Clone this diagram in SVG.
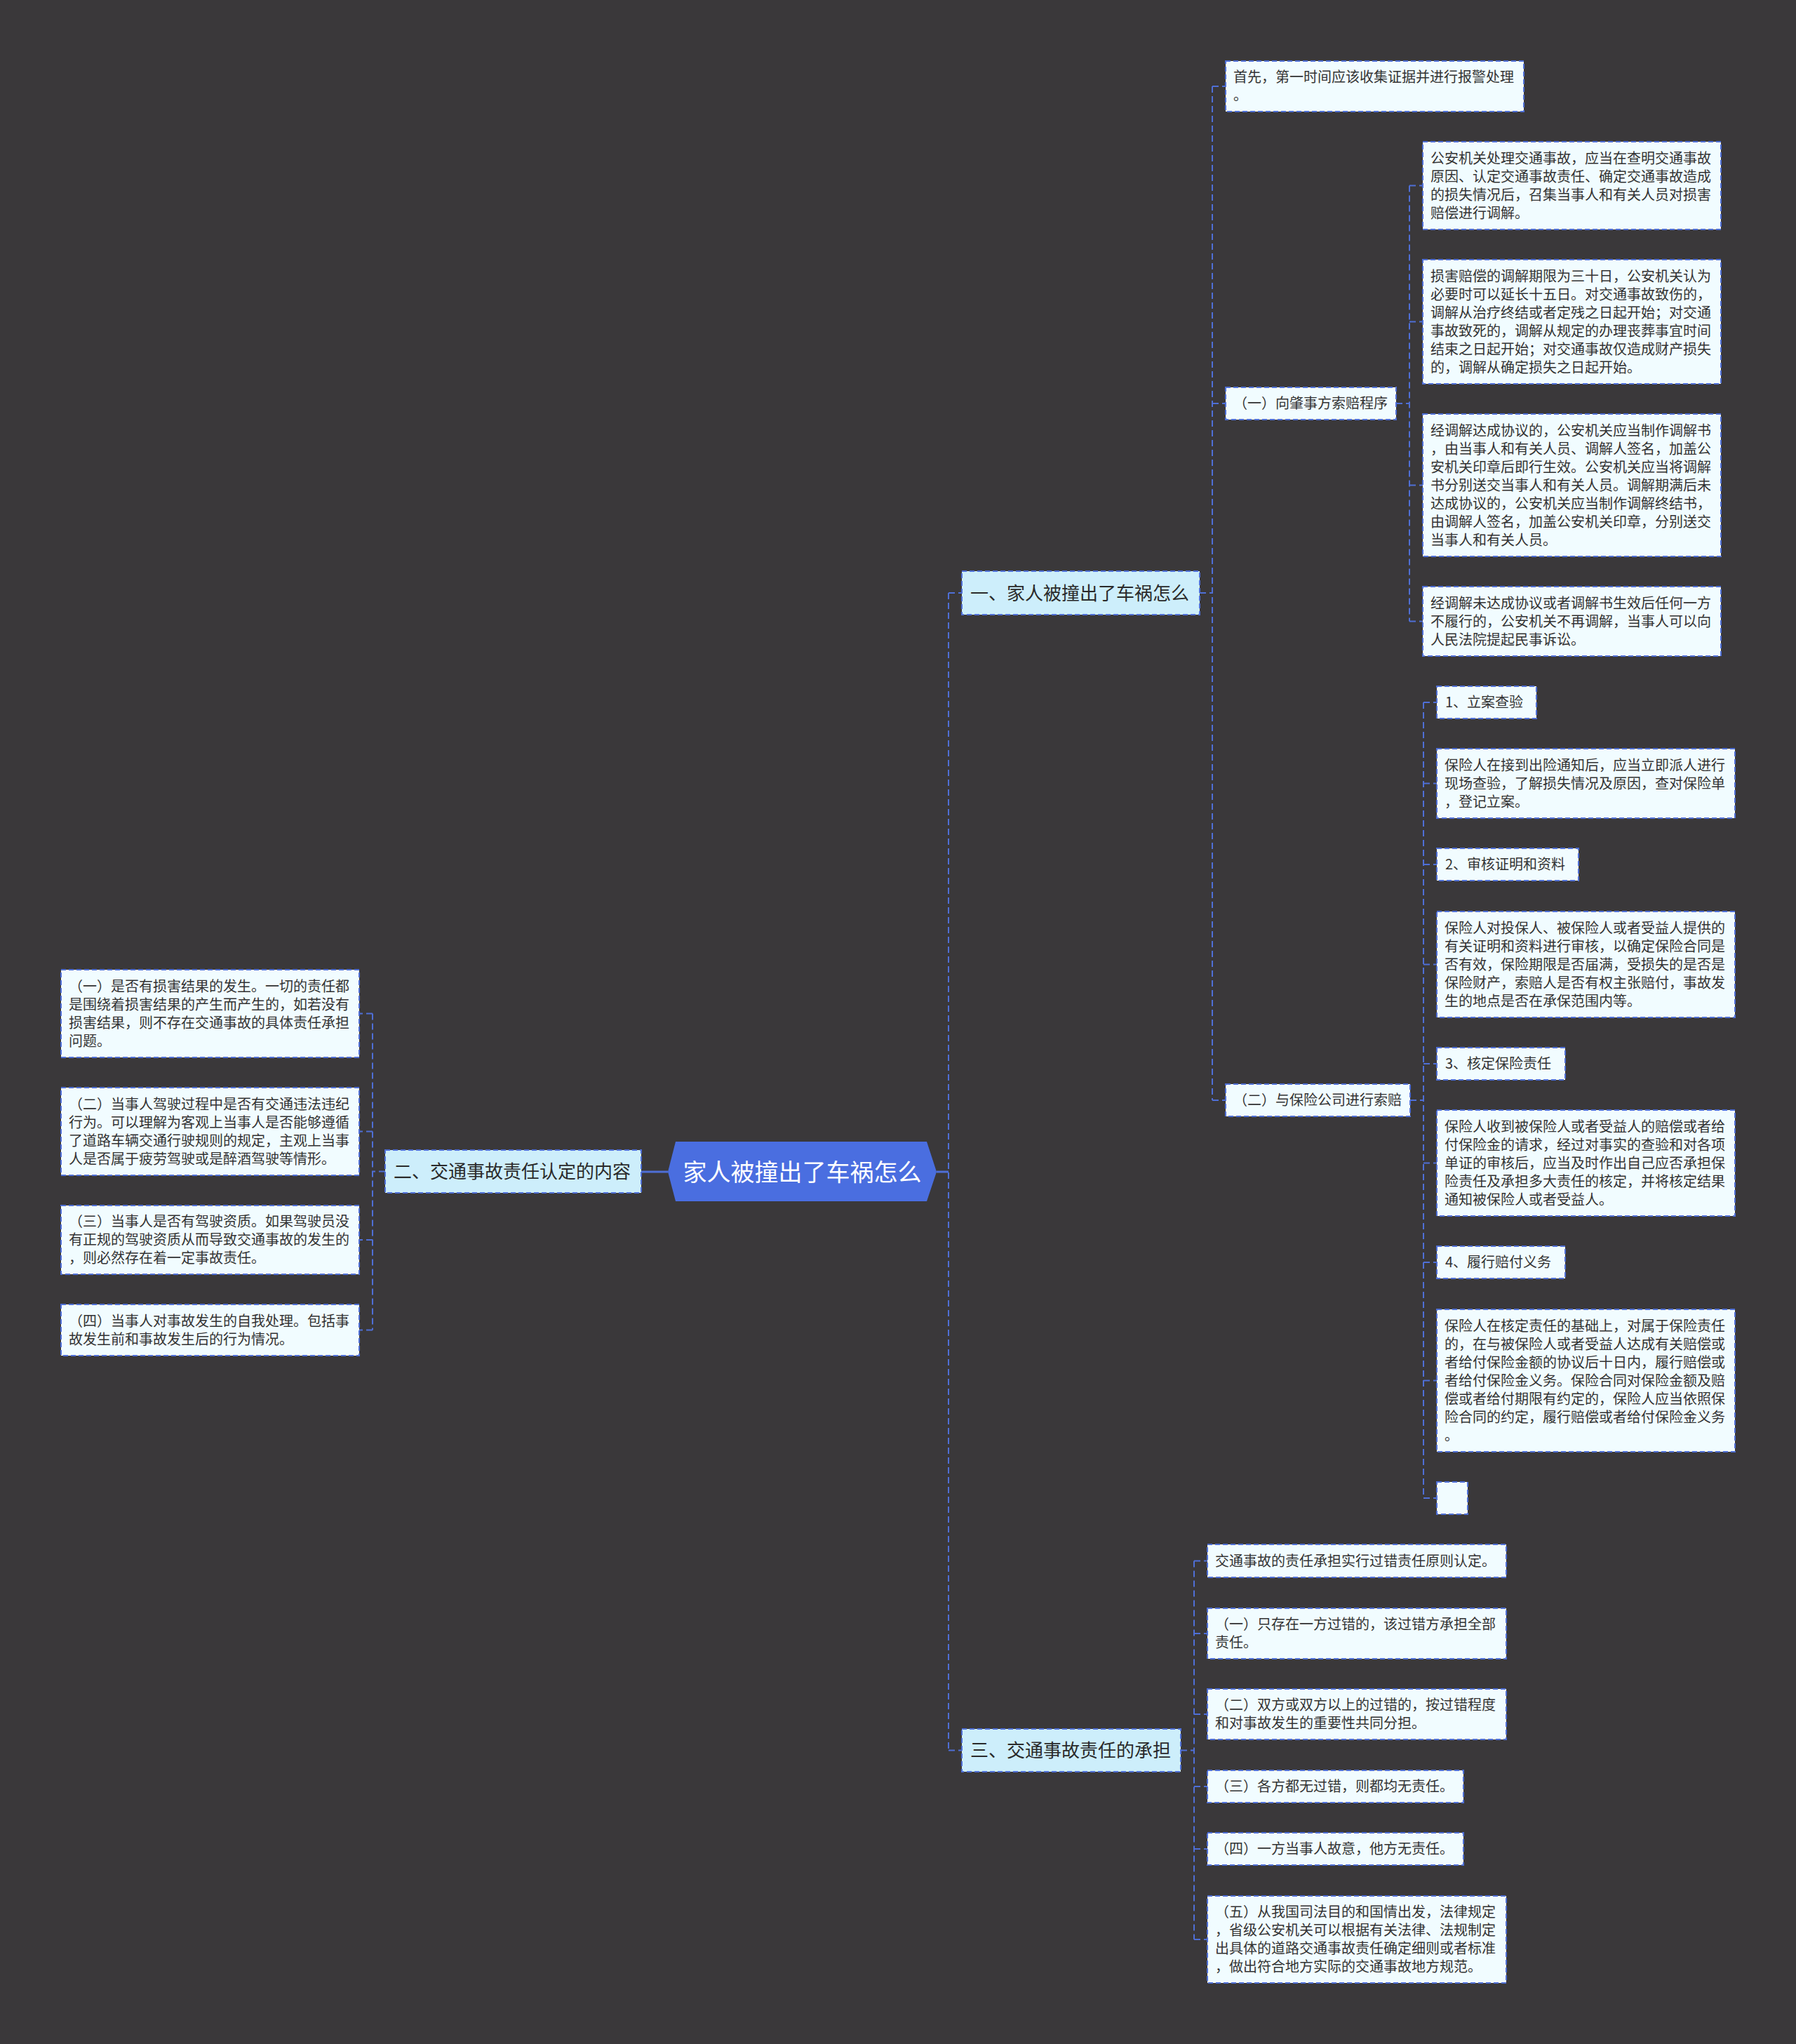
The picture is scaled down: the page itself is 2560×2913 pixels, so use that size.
<svg xmlns="http://www.w3.org/2000/svg" width="2560" height="2913" viewBox="0 0 2560 2913">
<style>
.bg{fill:#3a383a}
.n rect{fill:#f1fcff;stroke:#4f6fd6;stroke-width:2;stroke-dasharray:7 4}
.l1 rect{fill:#cdeefb;stroke:#4f6fd6;stroke-width:2;stroke-dasharray:7 4}
.t{font-family:"Noto Sans CJK SC","Noto Sans",sans-serif;font-size:20px;fill:#333}
.t1{font-family:"Noto Sans CJK SC","Noto Sans",sans-serif;font-size:26px;fill:#2a2a2a}
.c path{fill:none;stroke:#4f6fd6;stroke-width:2;stroke-dasharray:9 5}
.c .s{stroke-dasharray:none;stroke-width:3}
</style>
<rect class="bg" x="0" y="0" width="2560" height="2913"/>

<g class="c" id="connectors">
<path class="s" d="M1335 1670 H1352"/>
<path class="s" d="M952 1670 H914"/>
<path d="M1352 845 V2494.5 M1352 845 H1371 M1352 2494.5 H1371"/>
<path d="M1710 845 H1728 M1728 123 V1568 M1728 123 H1747 M1728 575 H1747 M1728 1568 H1747"/>
<path d="M1990 575 H2009 M2009 264.5 V885.5 M2009 264.5 H2028 M2009 458.5 H2028 M2009 691.5 H2028 M2009 885.5 H2028"/>
<path d="M2010 1568 H2029 M2029 1001 V2135 M2029 1001 H2048 M2029 1116.5 H2048 M2029 1232 H2048 M2029 1374.5 H2048 M2029 1516 H2048 M2029 1657.5 H2048 M2029 1799 H2048 M2029 1967.5 H2048 M2029 2135 H2048"/>
<path d="M1683 2494.5 H1702 M1702 2224.5 V2764 M1702 2224.5 H1721 M1702 2328 H1721 M1702 2443 H1721 M1702 2546 H1721 M1702 2635 H1721 M1702 2764 H1721"/>
<path d="M549 1669.5 H531 M531 1444.5 V1895.5 M531 1444.5 H512 M531 1612.5 H512 M531 1767 H512 M531 1895.5 H512"/>
</g>

<g id="root">
<polygon points="952,1670 963,1627 1321,1627 1335,1670 1321,1712 963,1712" fill="#4a6ee0"/>
<text x="1143.5" y="1683" text-anchor="middle" font-family="'Noto Sans CJK SC',sans-serif" font-size="34" fill="#ffffff">家人被撞出了车祸怎么</text>
</g>

<g id="n1" class="l1"><rect x="1371" y="814" width="339" height="62"/><text class="t1" x="1383" y="855">一、家人被撞出了车祸怎么</text></g>
<g id="n2" class="l1"><rect x="549" y="1639" width="365" height="61"/><text class="t1" x="561" y="1679">二、交通事故责任认定的内容</text></g>
<g id="n3" class="l1"><rect x="1371" y="2464" width="312" height="61"/><text class="t1" x="1383" y="2504">三、交通事故责任的承担</text></g>

<g id="a" class="n"><rect x="1747" y="87" width="425" height="72"/><text class="t" x="1758" y="117">首先，第一时间应该收集证据并进行报警处理</text><text class="t" x="1758" y="143">。</text></g>

<g id="s1" class="n"><rect x="1747" y="552" width="243" height="46"/><text class="t" x="1758" y="582">（一）向肇事方索赔程序</text></g>

<g id="b" class="n"><rect x="2028" y="202" width="425" height="125"/>
<text class="t" x="2039" y="232.5">公安机关处理交通事故，应当在查明交通事故</text>
<text class="t" x="2039" y="258.5">原因、认定交通事故责任、确定交通事故造成</text>
<text class="t" x="2039" y="284.5">的损失情况后，召集当事人和有关人员对损害</text>
<text class="t" x="2039" y="310.5">赔偿进行调解。</text></g>

<g id="c" class="n"><rect x="2028" y="370" width="425" height="177"/>
<text class="t" x="2039" y="400.5">损害赔偿的调解期限为三十日，公安机关认为</text>
<text class="t" x="2039" y="426.5">必要时可以延长十五日。对交通事故致伤的，</text>
<text class="t" x="2039" y="452.5">调解从治疗终结或者定残之日起开始；对交通</text>
<text class="t" x="2039" y="478.5">事故致死的，调解从规定的办理丧葬事宜时间</text>
<text class="t" x="2039" y="504.5">结束之日起开始；对交通事故仅造成财产损失</text>
<text class="t" x="2039" y="530.5">的，调解从确定损失之日起开始。</text></g>

<g id="d" class="n"><rect x="2028" y="590" width="425" height="203"/>
<text class="t" x="2039" y="620.5">经调解达成协议的，公安机关应当制作调解书</text>
<text class="t" x="2039" y="646.5">，由当事人和有关人员、调解人签名，加盖公</text>
<text class="t" x="2039" y="672.5">安机关印章后即行生效。公安机关应当将调解</text>
<text class="t" x="2039" y="698.5">书分别送交当事人和有关人员。调解期满后未</text>
<text class="t" x="2039" y="724.5">达成协议的，公安机关应当制作调解终结书，</text>
<text class="t" x="2039" y="750.5">由调解人签名，加盖公安机关印章，分别送交</text>
<text class="t" x="2039" y="776.5">当事人和有关人员。</text></g>

<g id="e" class="n"><rect x="2028" y="836" width="425" height="99"/>
<text class="t" x="2039" y="866.5">经调解未达成协议或者调解书生效后任何一方</text>
<text class="t" x="2039" y="892.5">不履行的，公安机关不再调解，当事人可以向</text>
<text class="t" x="2039" y="918.5">人民法院提起民事诉讼。</text></g>

<g id="s2" class="n"><rect x="1747" y="1545" width="263" height="46"/><text class="t" x="1758" y="1575">（二）与保险公司进行索赔</text></g>

<g id="p1h" class="n"><rect x="2048" y="978" width="142" height="46"/><text class="t" x="2060" y="1008">1、立案查验</text></g>
<g id="p1" class="n"><rect x="2048" y="1067" width="425" height="99"/>
<text class="t" x="2059" y="1097.5">保险人在接到出险通知后，应当立即派人进行</text>
<text class="t" x="2059" y="1123.5">现场查验，了解损失情况及原因，查对保险单</text>
<text class="t" x="2059" y="1149.5">，登记立案。</text></g>

<g id="p2h" class="n"><rect x="2048" y="1209" width="202" height="46"/><text class="t" x="2060" y="1239">2、审核证明和资料</text></g>
<g id="p2" class="n"><rect x="2048" y="1299" width="425" height="151"/>
<text class="t" x="2059" y="1329.5">保险人对投保人、被保险人或者受益人提供的</text>
<text class="t" x="2059" y="1355.5">有关证明和资料进行审核，以确定保险合同是</text>
<text class="t" x="2059" y="1381.5">否有效，保险期限是否届满，受损失的是否是</text>
<text class="t" x="2059" y="1407.5">保险财产，索赔人是否有权主张赔付，事故发</text>
<text class="t" x="2059" y="1433.5">生的地点是否在承保范围内等。</text></g>

<g id="p3h" class="n"><rect x="2048" y="1493" width="183" height="46"/><text class="t" x="2060" y="1523">3、核定保险责任</text></g>
<g id="p3" class="n"><rect x="2048" y="1582" width="425" height="151"/>
<text class="t" x="2059" y="1612.5">保险人收到被保险人或者受益人的赔偿或者给</text>
<text class="t" x="2059" y="1638.5">付保险金的请求，经过对事实的查验和对各项</text>
<text class="t" x="2059" y="1664.5">单证的审核后，应当及时作出自己应否承担保</text>
<text class="t" x="2059" y="1690.5">险责任及承担多大责任的核定，并将核定结果</text>
<text class="t" x="2059" y="1716.5">通知被保险人或者受益人。</text></g>

<g id="p4h" class="n"><rect x="2048" y="1776" width="183" height="46"/><text class="t" x="2060" y="1806">4、履行赔付义务</text></g>
<g id="p4" class="n"><rect x="2048" y="1866" width="425" height="203"/>
<text class="t" x="2059" y="1896.5">保险人在核定责任的基础上，对属于保险责任</text>
<text class="t" x="2059" y="1922.5">的，在与被保险人或者受益人达成有关赔偿或</text>
<text class="t" x="2059" y="1948.5">者给付保险金额的协议后十日内，履行赔偿或</text>
<text class="t" x="2059" y="1974.5">者给付保险金义务。保险合同对保险金额及赔</text>
<text class="t" x="2059" y="2000.5">偿或者给付期限有约定的，保险人应当依照保</text>
<text class="t" x="2059" y="2026.5">险合同的约定，履行赔偿或者给付保险金义务</text>
<text class="t" x="2059" y="2052.5">。</text></g>

<g id="empty" class="n"><rect x="2048" y="2112" width="44" height="46"/></g>

<g id="r1" class="n"><rect x="1721" y="2201" width="426" height="47"/><text class="t" x="1732" y="2231.5">交通事故的责任承担实行过错责任原则认定。</text></g>
<g id="r2" class="n"><rect x="1721" y="2292" width="426" height="72"/>
<text class="t" x="1732" y="2322">（一）只存在一方过错的，该过错方承担全部</text>
<text class="t" x="1732" y="2348">责任。</text></g>
<g id="r3" class="n"><rect x="1721" y="2407" width="426" height="72"/>
<text class="t" x="1732" y="2437">（二）双方或双方以上的过错的，按过错程度</text>
<text class="t" x="1732" y="2463">和对事故发生的重要性共同分担。</text></g>
<g id="r4" class="n"><rect x="1721" y="2523" width="365" height="46"/><text class="t" x="1732" y="2553">（三）各方都无过错，则都均无责任。</text></g>
<g id="r5" class="n"><rect x="1721" y="2612" width="365" height="46"/><text class="t" x="1732" y="2642">（四）一方当事人故意，他方无责任。</text></g>
<g id="r6" class="n"><rect x="1721" y="2702" width="426" height="124"/>
<text class="t" x="1732" y="2732">（五）从我国司法目的和国情出发，法律规定</text>
<text class="t" x="1732" y="2758">，省级公安机关可以根据有关法律、法规制定</text>
<text class="t" x="1732" y="2784">出具体的道路交通事故责任确定细则或者标准</text>
<text class="t" x="1732" y="2810">，做出符合地方实际的交通事故地方规范。</text></g>

<g id="l1" class="n"><rect x="87" y="1382" width="425" height="125"/>
<text class="t" x="98" y="1412.5">（一）是否有损害结果的发生。一切的责任都</text>
<text class="t" x="98" y="1438.5">是围绕着损害结果的产生而产生的，如若没有</text>
<text class="t" x="98" y="1464.5">损害结果，则不存在交通事故的具体责任承担</text>
<text class="t" x="98" y="1490.5">问题。</text></g>
<g id="l2" class="n"><rect x="87" y="1550" width="425" height="125"/>
<text class="t" x="98" y="1580.5">（二）当事人驾驶过程中是否有交通违法违纪</text>
<text class="t" x="98" y="1606.5">行为。可以理解为客观上当事人是否能够遵循</text>
<text class="t" x="98" y="1632.5">了道路车辆交通行驶规则的规定，主观上当事</text>
<text class="t" x="98" y="1658.5">人是否属于疲劳驾驶或是醉酒驾驶等情形。</text></g>
<g id="l3" class="n"><rect x="87" y="1718" width="425" height="98"/>
<text class="t" x="98" y="1748">（三）当事人是否有驾驶资质。如果驾驶员没</text>
<text class="t" x="98" y="1774">有正规的驾驶资质从而导致交通事故的发生的</text>
<text class="t" x="98" y="1800">，则必然存在着一定事故责任。</text></g>
<g id="l4" class="n"><rect x="87" y="1859" width="425" height="73"/>
<text class="t" x="98" y="1889.5">（四）当事人对事故发生的自我处理。包括事</text>
<text class="t" x="98" y="1915.5">故发生前和事故发生后的行为情况。</text></g>
</svg>
